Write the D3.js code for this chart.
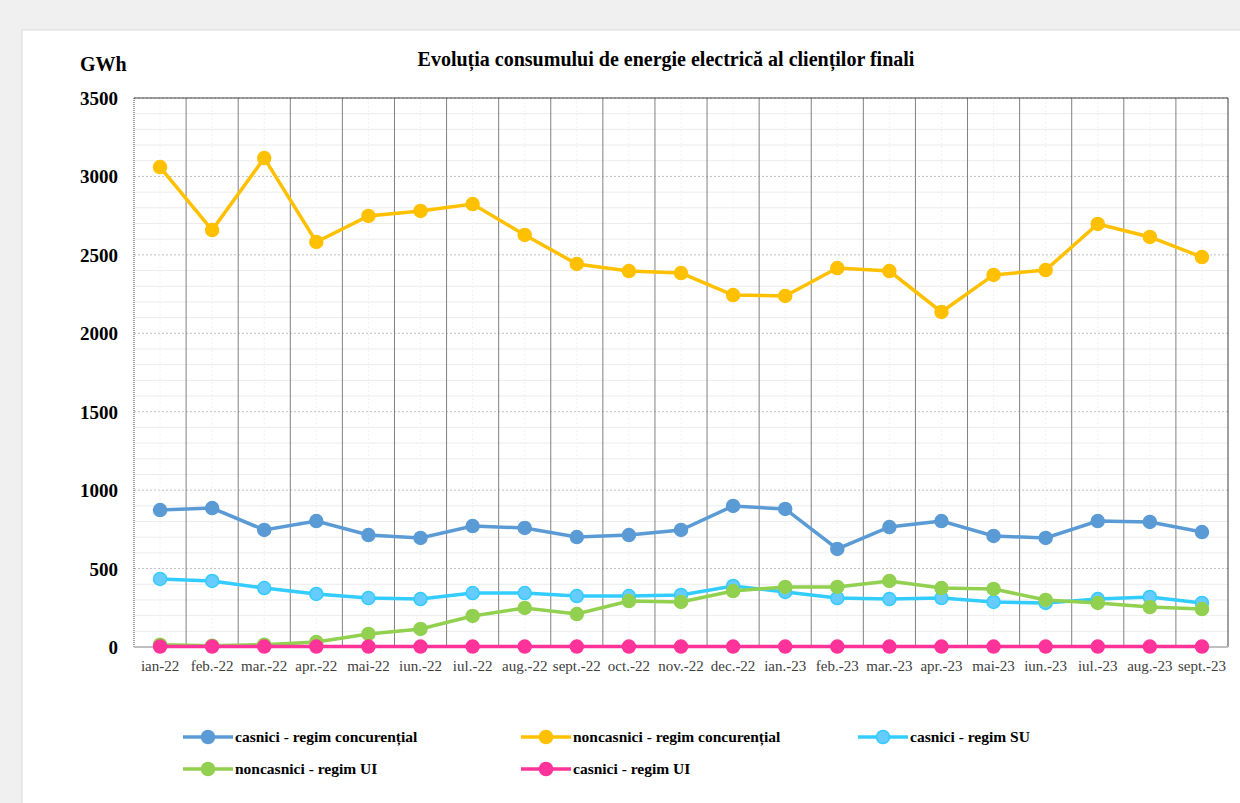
<!DOCTYPE html><html><head><meta charset="utf-8">
<script src="https://cdn.jsdelivr.net/npm/d3@7/dist/d3.min.js"></script>
<style>body{margin:0;background:#f0f0f0}svg{display:block}text{font-family:"Liberation Serif","Times New Roman",serif}</style></head><body>
<script>
const categories=["ian-22","feb.-22","mar.-22","apr.-22","mai-22","iun.-22","iul.-22","aug.-22","sept.-22","oct.-22","nov.-22","dec.-22","ian.-23","feb.-23","mar.-23","apr.-23","mai-23","iun.-23","iul.-23","aug.-23","sept.-23"];
const casniciConc=[873,886,746,803,714,695,771,759,701,714,746,899,880,625,765,803,708,695,803,797,733];
const noncasniciConc=[3060,2658,3117,2582,2748,2780,2824,2627,2442,2397,2384,2244,2238,2416,2397,2136,2372,2403,2697,2614,2486];
const casniciSU=[434,421,376,338,312,306,344,344,325,325,332,389,351,312,306,312,287,281,306,319,281];
const noncasniciUI=[15,8,15,32,83,115,198,249,210,293,287,357,383,383,421,376,370,300,281,255,242];
const casniciUI=[3,3,3,3,3,3,3,3,3,3,3,3,3,3,3,3,3,3,3,3,3];
const yTicks=[0,500,1000,1500,2000,2500,3000,3500];
const series=[
 {name:"casnici - regim concurențial",data:casniciConc,color:"#5b9bd5",fill:"#5b9bd5"},
 {name:"noncasnici - regim concurențial",data:noncasniciConc,color:"#ffc000",fill:"#ffc000"},
 {name:"casnici - regim SU",data:casniciSU,color:"#33ccff",fill:"#66ccff"},
 {name:"noncasnici - regim UI",data:noncasniciUI,color:"#92d050",fill:"#92d050"},
 {name:"casnici - regim UI",data:casniciUI,color:"#ff3399",fill:"#ff3399"}];
const W=1240,H=803;
const svg=d3.select("body").append("svg").attr("width",W).attr("height",H);
svg.append("rect").attr("x",22).attr("y",30).attr("width",1230).attr("height",780).attr("fill","#fff").attr("stroke","#d9d9d9");
const L=134,R=1228,T=98,B=647;
const x=d3.scaleBand().domain(categories).range([L,R]);
const y=d3.scaleLinear().domain([0,3500]).range([B,T]);
const g=svg.append("g");
d3.range(100,3500,100).filter(v=>v%500).forEach(v=>g.append("line").attr("x1",L).attr("x2",R).attr("y1",y(v)).attr("y2",y(v)).attr("stroke","#ececec"));
yTicks.slice(1).forEach(v=>g.append("line").attr("x1",L).attr("x2",R).attr("y1",y(v)).attr("y2",y(v)).attr("stroke","#bfbfbf").attr("stroke-dasharray","2,2"));
categories.forEach(c=>g.append("line").attr("x1",x(c)+x.bandwidth()/2).attr("x2",x(c)+x.bandwidth()/2).attr("y1",T).attr("y2",B).attr("stroke","#f2f2f2").attr("stroke-dasharray","2,2"));
categories.slice(1).forEach(c=>g.append("line").attr("x1",x(c)).attr("x2",x(c)).attr("y1",T).attr("y2",B).attr("stroke","#808080"));
g.append("line").attr("x1",L).attr("x2",R).attr("y1",T).attr("y2",T).attr("stroke","#404040");
g.append("line").attr("x1",R).attr("x2",R).attr("y1",T).attr("y2",B).attr("stroke","#404040");
g.append("line").attr("x1",L).attr("x2",L).attr("y1",T).attr("y2",B).attr("stroke","#404040").attr("stroke-dasharray","1,1");
g.append("line").attr("x1",L).attr("x2",R).attr("y1",B).attr("y2",B).attr("stroke","#bfbfbf").attr("stroke-width",2);
yTicks.forEach(v=>svg.append("text").attr("x",118).attr("y",y(v)+7).attr("text-anchor","end").attr("font-size",19).attr("font-weight","bold").text(v));
categories.forEach(c=>svg.append("text").attr("x",x(c)+x.bandwidth()/2).attr("y",671).attr("text-anchor","middle").attr("font-size",15).attr("fill","#404040").text(c));
svg.append("text").attr("x",80).attr("y",71).attr("font-size",20).attr("font-weight","bold").text("GWh");
svg.append("text").attr("x",666).attr("y",66).attr("text-anchor","middle").attr("font-size",20).attr("font-weight","bold").text("Evoluția consumului de energie electrică al clienților finali");
const line=d3.line().x((d,i)=>x(categories[i])+x.bandwidth()/2).y(d=>y(d));
series.forEach(s=>{
 svg.append("path").attr("d",line(s.data)).attr("fill","none").attr("stroke",s.color).attr("stroke-width",3.5);
 svg.selectAll(null).data(s.data).enter().append("circle").attr("cx",(d,i)=>x(categories[i])+x.bandwidth()/2).attr("cy",d=>y(d)).attr("r",6.5).attr("fill",s.fill).attr("stroke",s.color).attr("stroke-width",1.5);
});
const lp=[[183,737],[521,737],[858,737],[183,769],[521,769]];
series.forEach((s,i)=>{const [lx,ly]=lp[i];
 svg.append("line").attr("x1",lx).attr("x2",lx+50).attr("y1",ly).attr("y2",ly).attr("stroke",s.color).attr("stroke-width",3.5);
 svg.append("circle").attr("cx",lx+25).attr("cy",ly).attr("r",6.5).attr("fill",s.fill).attr("stroke",s.color).attr("stroke-width",1.5);
 svg.append("text").attr("x",lx+52).attr("y",ly+5).attr("font-size",15.5).attr("font-weight","bold").text(s.name);});
</script></body></html>
